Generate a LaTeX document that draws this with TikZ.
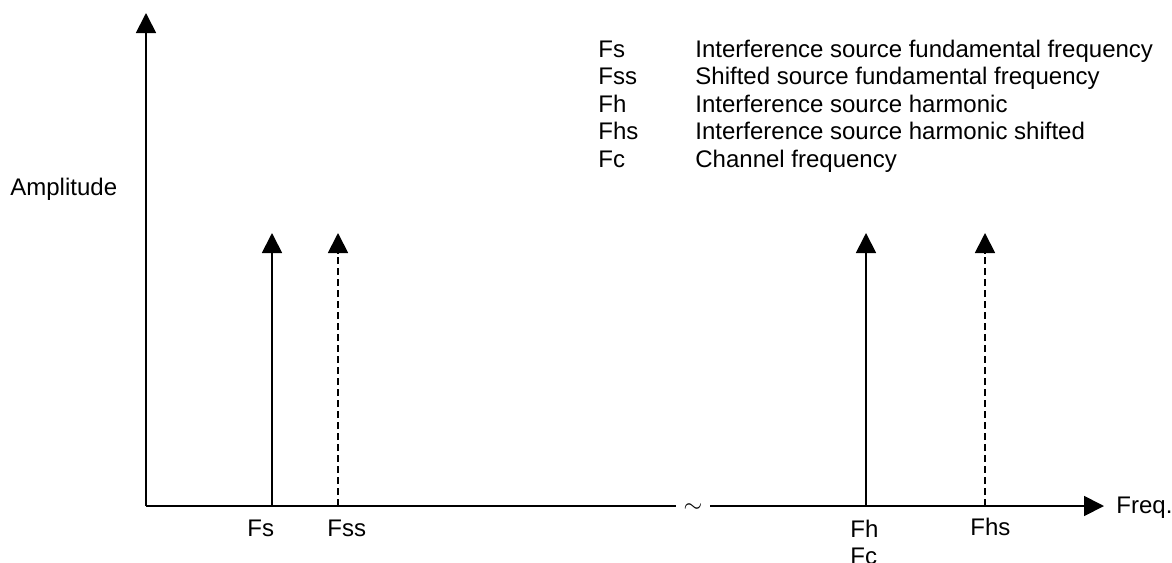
\documentclass[tikz,border=0pt]{standalone}
\usepackage{fontspec}
\setmainfont{Liberation Sans}
\usetikzlibrary{arrows.meta}
\begin{document}
\begin{tikzpicture}[x=0.5pt,y=-0.5pt,
  ln/.style={line width=0.9pt},
  tri/.style={-{Triangle[length=10pt,width=10pt]}},
  dsh/.style={dash pattern=on 3.5pt off 2pt},
  lbl/.style={inner sep=0pt,anchor=base west,font=\fontsize{12pt}{14pt}\selectfont}]
\useasboundingbox (0,0) rectangle (1172,562);
% axis points
\coordinate (O) at (146,506);
\coordinate (ytip) at (146,13);
\coordinate (bl) at (676,506);
\coordinate (br) at (710,506);
\coordinate (xtip) at (1104,506);
\draw[ln,tri] (O) -- (ytip);
\draw[ln] (O) -- (bl);
\draw[ln,tri] (br) -- (xtip);
\node[inner sep=0pt,font=\fontsize{12pt}{14pt}\selectfont] (brk) at (693,508) {\(\sim\)};
% spikes
\coordinate (fsb) at (272,506);  \coordinate (fst) at (272,233);
\coordinate (fssb) at (338,506); \coordinate (fsst) at (338,233);
\coordinate (fhb) at (866,506);  \coordinate (fht) at (866,233);
\coordinate (fhsb) at (985,506); \coordinate (fhst) at (985,233);
\draw[ln,tri] (fsb) -- (fst);
\draw[ln,tri,dsh] (fssb) -- (fsst);
\draw[ln,tri] (fhb) -- (fht);
\draw[ln,tri,dsh] (fhsb) -- (fhst);
% labels
\node[lbl] (amp) at (10,195) {Amplitude};
\node[lbl] (freq) at (1116,513) {Freq.};
\node[lbl] (lfs) at (247,536) {Fs};
\node[lbl] (lfss) at (327,536) {Fss};
\node[lbl] (lfh) at (850,537) {Fh};
\node[lbl] (lfc) at (850,564) {Fc};
\node[lbl] (lfhs) at (970,535) {Fhs};
% legend
\node[lbl] (k1) at (598,57) {Fs};
\node[lbl] (k2) at (598,84.5) {Fss};
\node[lbl] (k3) at (598,112) {Fh};
\node[lbl] (k4) at (598,139.5) {Fhs};
\node[lbl] (k5) at (598,167) {Fc};
\node[lbl] (d1) at (695,57) {Interference source fundamental frequency};
\node[lbl] (d2) at (695,84.5) {Shifted source fundamental frequency};
\node[lbl] (d3) at (695,112) {Interference source harmonic};
\node[lbl] (d4) at (695,139.5) {Interference source harmonic shifted};
\node[lbl] (d5) at (695,167) {Channel frequency};
\end{tikzpicture}
\end{document}
